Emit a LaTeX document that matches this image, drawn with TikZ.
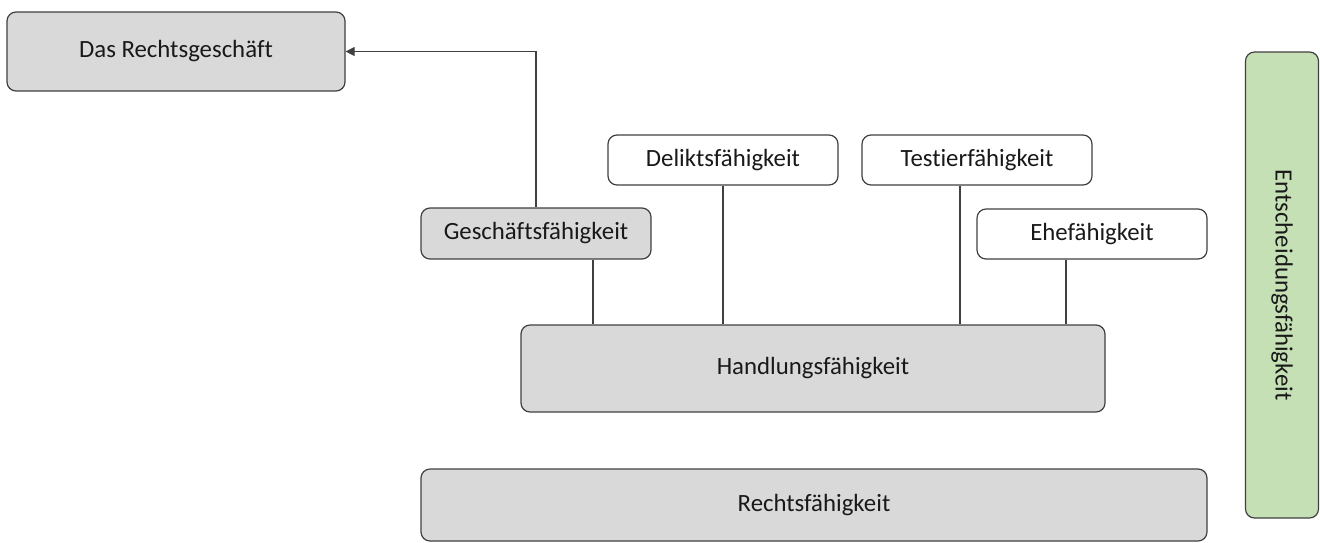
\documentclass[tikz,border=0pt]{standalone}
\usepackage{fontspec}
\setmainfont[Ligatures=CommonOff]{Carlito}
\usetikzlibrary{arrows.meta}
\definecolor{boxgray}{HTML}{D9D9D9}
\definecolor{boxgreen}{HTML}{C5E0B4}
\definecolor{edge}{HTML}{404040}
\definecolor{wire}{HTML}{404040}
\tikzset{
  box/.style={draw=edge, line width=1.2pt, rounded corners=9pt, inner sep=0pt, font=\fontsize{24.8}{28}\selectfont, text=black!90},
  graybox/.style={box, fill=boxgray},
  whitebox/.style={box, fill=white},
  greenbox/.style={box, fill=boxgreen},
  wireline/.style={draw=wire, line width=1.1pt},
}
\begin{document}
\begin{tikzpicture}[x=1pt,y=-1pt]
\useasboundingbox (0,0) rectangle (1320,542);
\node[graybox, minimum width=338pt, minimum height=79pt] (rg) at (176,51.5) {Das Rechtsgeschäft};
\node[graybox, minimum width=230pt, minimum height=51pt] (gf) at (536,233.5) {Geschäftsfähigkeit};
\node[whitebox, minimum width=230pt, minimum height=50pt] (df) at (723,160) {Deliktsfähigkeit};
\node[whitebox, minimum width=230pt, minimum height=50pt] (tf) at (977,160) {Testierfähigkeit};
\node[whitebox, minimum width=230pt, minimum height=50pt] (ef) at (1092,234) {Ehefähigkeit};
\node[graybox, minimum width=584pt, minimum height=87pt] (hf) at (813,368.5) {Handlungsfähigkeit};
\node[graybox, minimum width=786pt, minimum height=72pt] (rf) at (814,505) {Rechtsfähigkeit};
\node[greenbox, minimum width=466pt, minimum height=73pt, rotate=-90] (ent) at (1282,285) {Entscheidungsfähigkeit};
\draw[wireline, -{Triangle[length=9pt,width=9pt]}] (gf.north) |- (rg.east);
\draw[wireline] (gf.south -| 593,0) -- (hf.north -| 593,0);
\draw[wireline] (df.south -| 723,0) -- (hf.north -| 723,0);
\draw[wireline] (tf.south -| 960,0) -- (hf.north -| 960,0);
\draw[wireline] (ef.south -| 1066,0) -- (hf.north -| 1066,0);
\end{tikzpicture}
\end{document}
